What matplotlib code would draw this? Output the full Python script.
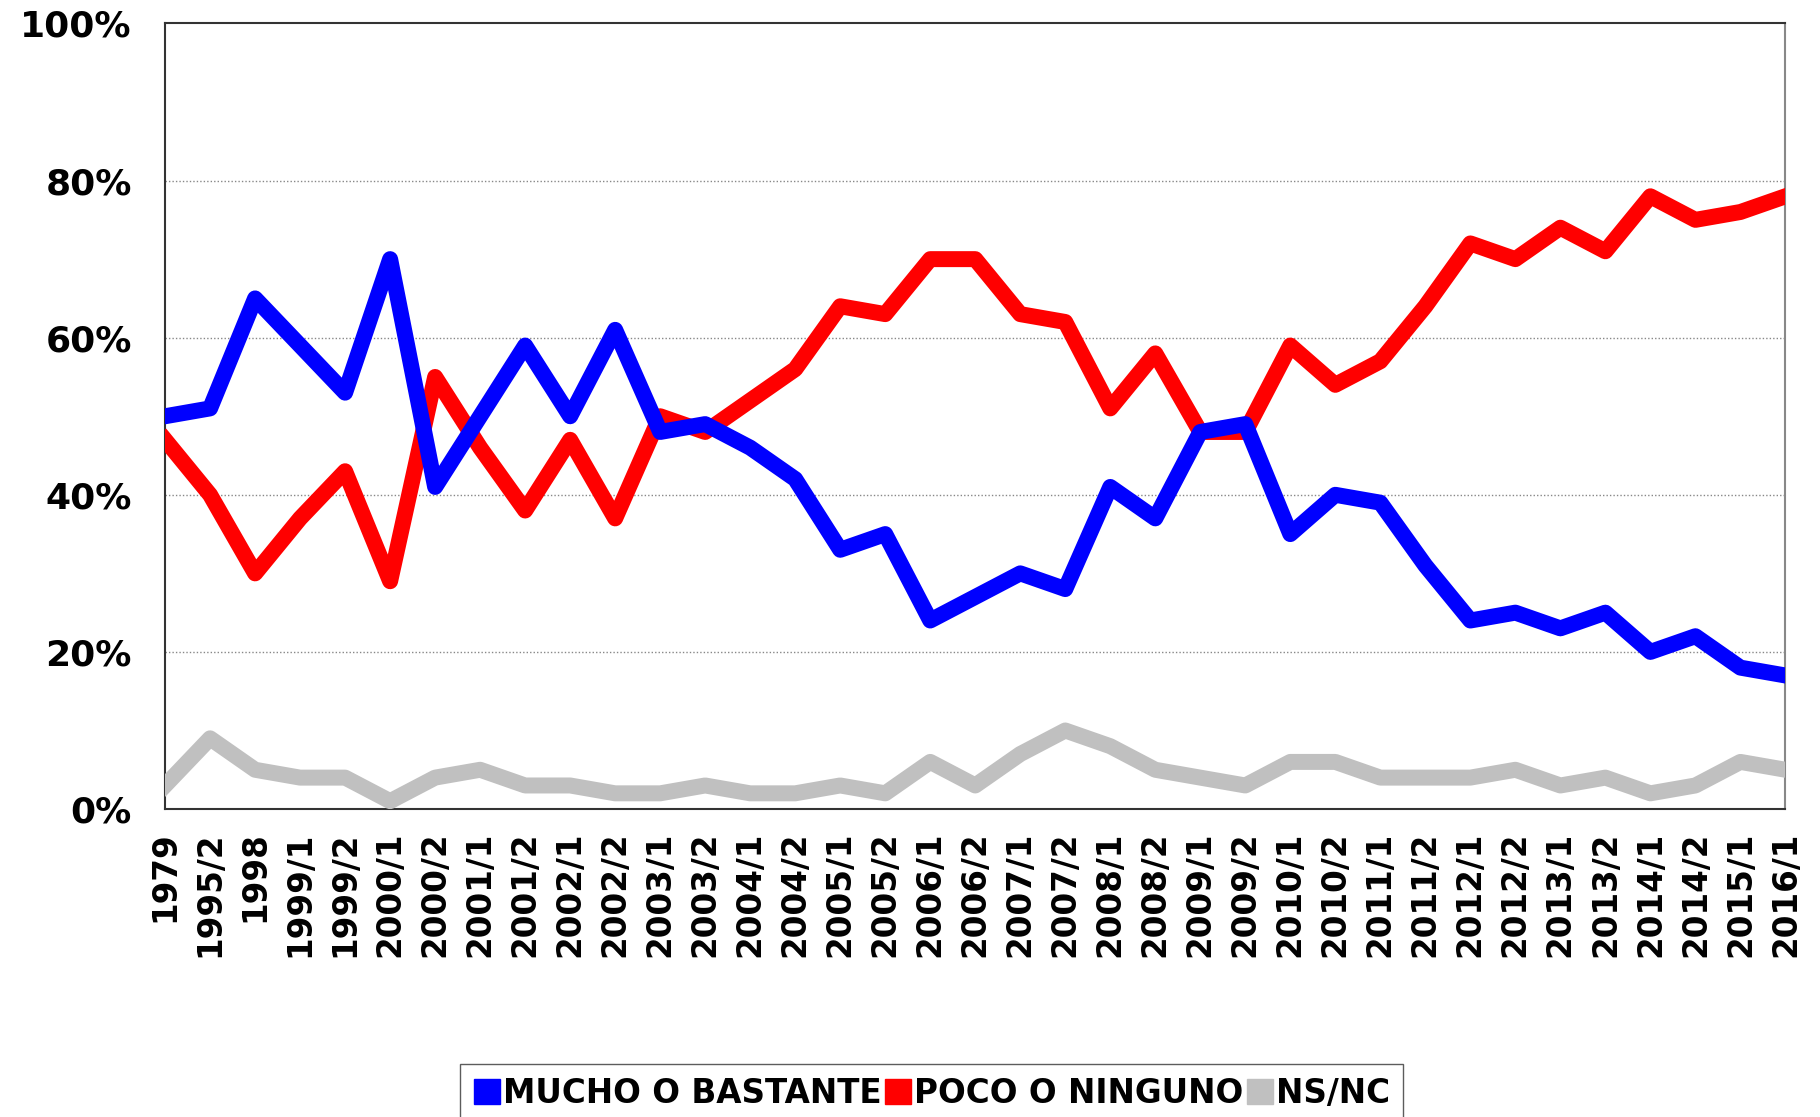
import matplotlib
matplotlib.use("Agg")
import matplotlib.pyplot as plt
from matplotlib.ticker import PercentFormatter
from matplotlib.patches import Patch

periods = ['1979', '1995/2', '1998', '1999/1', '1999/2', '2000/1', '2000/2',
           '2001/1', '2001/2', '2002/1', '2002/2', '2003/1', '2003/2',
           '2004/1', '2004/2', '2005/1', '2005/2', '2006/1', '2006/2',
           '2007/1', '2007/2', '2008/1', '2008/2', '2009/1', '2009/2',
           '2010/1', '2010/2', '2011/1', '2011/2', '2012/1', '2012/2',
           '2013/1', '2013/2', '2014/1', '2014/2', '2015/1', '2016/1']

mucho = [50, 51, 65, 59, 53, 70, 41, 50, 59, 50, 61, 48, 49, 46, 42, 33, 35,
         24, 27, 30, 28, 41, 37, 48, 49, 35, 40, 39, 31, 24, 25, 23, 25, 20,
         22, 18, 17]
poco = [47, 40, 30, 37, 43, 29, 55, 46, 38, 47, 37, 50, 48, 52, 56, 64, 63,
        70, 70, 63, 62, 51, 58, 48, 48, 59, 54, 57, 64, 72, 70, 74, 71, 78,
        75, 76, 78]
nsnc = [3, 9, 5, 4, 4, 1, 4, 5, 3, 3, 2, 2, 3, 2, 2, 3, 2, 6, 3, 7, 10, 8, 5,
        4, 3, 6, 6, 4, 4, 4, 5, 3, 4, 2, 3, 6, 5]

labels = ['MUCHO O BASTANTE', 'POCO O NINGUNO', 'NS/NC']
colors = ['#0000FF', '#FF0000', '#C0C0C0']

fig = plt.figure(figsize=(18.2, 11.17), dpi=100)
ax = fig.add_axes([0.0907, 0.2757, 0.8903, 0.7033])

x = range(len(periods))
ax.plot(x, nsnc, color=colors[2], lw=11.5, solid_joinstyle='round', zorder=3)
ax.plot(x, poco, color=colors[1], lw=11.5, solid_joinstyle='round', zorder=4)
ax.plot(x, mucho, color=colors[0], lw=11.5, solid_joinstyle='round', zorder=5)

ax.set_xlim(0, len(periods) - 1)
ax.set_ylim(0, 100)
ax.set_yticks([0, 20, 40, 60, 80, 100])
ax.yaxis.set_major_formatter(PercentFormatter(decimals=0))
ax.set_xticks(list(x))
ax.set_xticklabels(periods, rotation=90, fontsize=23.5, fontweight='bold')
for t in ax.get_yticklabels():
    t.set_fontsize(26)
    t.set_fontweight('bold')
ax.tick_params(axis='y', length=0, pad=24)
ax.tick_params(axis='x', length=0, pad=16)

for y in [20, 40, 60, 80]:
    ax.axhline(y, color='#888888', lw=1, ls=(0, (1, 1.5)), zorder=1)

for s in ax.spines.values():
    s.set_color('#333333')
    s.set_linewidth(1.5)
ax.spines['right'].set_color('#888888')

handles = [Patch(color=c) for c in colors]
fig.legend(handles, labels, loc='upper center', ncol=3,
           bbox_to_anchor=(0.512, 0.0474), bbox_transform=fig.transFigure,
           prop={'weight': 'bold', 'size': 23.5}, frameon=True, fancybox=False,
           edgecolor='#333333', handlelength=0.8, handleheight=0.8,
           handletextpad=0.1, columnspacing=0.1, borderpad=0.4,
           borderaxespad=0)

fig.savefig('out.png', dpi=100)
